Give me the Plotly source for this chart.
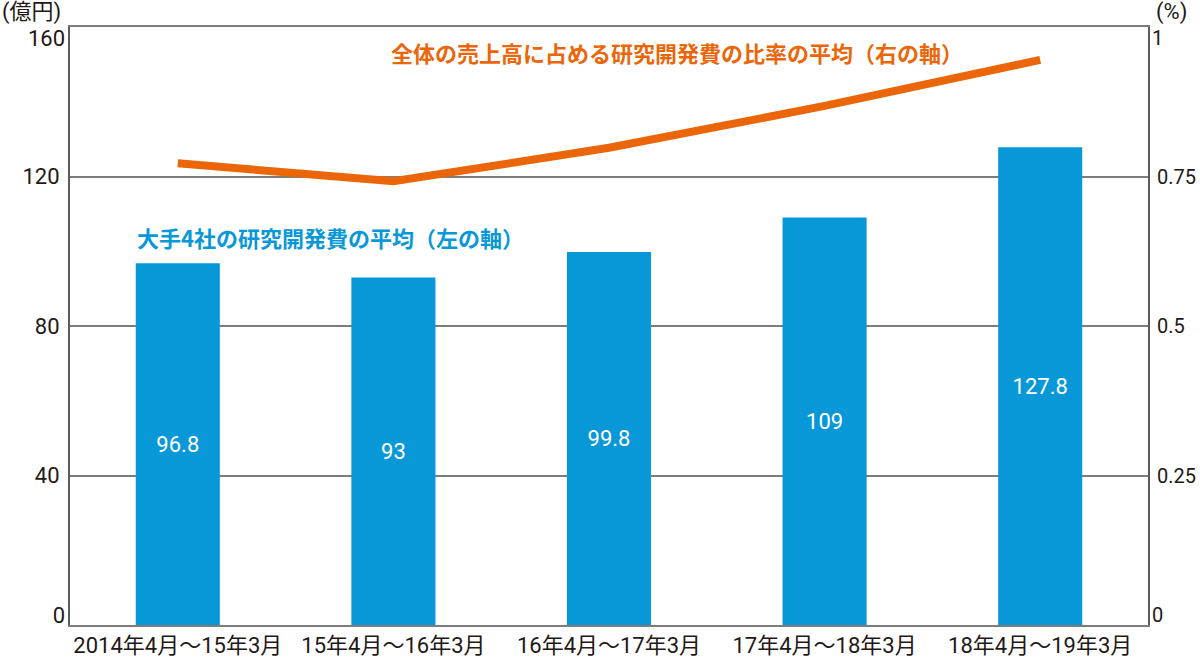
import plotly.graph_objects as go

categories = ["2014年4月～15年3月", "15年4月～16年3月", "16年4月～17年3月", "17年4月～18年3月", "18年4月～19年3月"]
rd_average = [96.8, 93, 99.8, 109, 127.8]          # 億円, left axis
rd_ratio = [0.772, 0.742, 0.798, 0.868, 0.945]     # %, right axis
bar_labels = ["96.8", "93", "99.8", "109", "127.8"]
left_mid_ticks = [40, 80, 120]
left_bottom_tick = [0]
left_top_tick = [160]
right_mid_ticks = [0.25, 0.5, 0.75]
right_mid_ticktext = ["0.25", "0.5", "0.75"]
right_bottom_tick = [0]
right_top_tick = [1]

BLUE = "#0898D8"
ORANGE = "#EB6608"
TEXT = "#231815"
GRID = "#7d7d7d"
AXIS = "#5a5a5a"
NUMFONT = "Roboto, Noto Sans CJK JP, sans-serif"
JPFONT = "Noto Sans CJK JP, sans-serif"
TICKFONT = dict(family=NUMFONT, size=22, color=TEXT)
LTICKFONT = dict(family=NUMFONT, size=22, color=TEXT)
RTICKFONT = dict(family=NUMFONT, size=20, color=TEXT)

fig = go.Figure()
fig.add_trace(go.Bar(
    x=categories, y=rd_average, marker=dict(color=BLUE, line=dict(width=0)),
    width=0.39, text=bar_labels, textposition="inside", insidetextanchor="middle",
    textfont=dict(family=NUMFONT, size=22, color="white"), yaxis="y", showlegend=False,
))
fig.add_trace(go.Scatter(
    x=categories, y=rd_ratio, mode="lines", line=dict(color=ORANGE, width=8),
    yaxis="y2", showlegend=False,
))
# empty helper traces so that the end-label axes are drawn
for ax in ["y3", "y4", "y5", "y6"]:
    fig.add_trace(go.Scatter(x=[], y=[], yaxis=ax, showlegend=False, hoverinfo="skip"))


def label_axis(side, rng, vals, shift, standoff, font):
    return dict(range=rng, tickvals=vals, overlaying="y", side=side, showgrid=False,
                showline=False, zeroline=False, ticks="", tickfont=font,
                ticklabelshift=shift, ticklabelstandoff=standoff, automargin=False)


fig.update_layout(
    width=1200, height=659,
    margin=dict(l=70, r=52, t=27, b=34),
    paper_bgcolor="white", plot_bgcolor="white",
    font=dict(family=NUMFONT, color=TEXT, size=22),
    xaxis=dict(
        showgrid=False, showline=True, linecolor=GRID, linewidth=2, mirror=True,
        ticks="", tickfont=TICKFONT, automargin=False,
    ),
    yaxis=dict(
        range=[0, 160], tickvals=left_mid_ticks, showgrid=True, gridcolor=GRID, gridwidth=2,
        showline=True, linecolor=AXIS, linewidth=2, ticks="", zeroline=False,
        tickfont=LTICKFONT, ticklabelstandoff=4, automargin=False,
    ),
    yaxis2=dict(
        range=[0, 1], tickvals=right_mid_ticks, ticktext=right_mid_ticktext, overlaying="y",
        side="right", showgrid=False, showline=True, linecolor=AXIS, linewidth=2, ticks="",
        zeroline=False, tickfont=RTICKFONT, ticklabelstandoff=3, automargin=False,
    ),
    yaxis3=label_axis("left", [0, 160], left_bottom_tick, -10, 4, LTICKFONT),
    yaxis4=label_axis("left", [0, 160], left_top_tick, 11, 4, LTICKFONT),
    yaxis5=label_axis("right", [0, 1], right_bottom_tick, -10, 3, RTICKFONT),
    yaxis6=label_axis("right", [0, 1], right_top_tick, 11, 3, RTICKFONT),
)

fig.add_annotation(text="(億円)", xref="paper", yref="paper", x=-70 / 1078, y=1 + 15 / 598,
                   xanchor="left", yanchor="middle", showarrow=False,
                   font=dict(family=NUMFONT, size=22, color=TEXT))
fig.add_annotation(text="(%)", xref="paper", yref="paper", x=1 + 6 / 1078, y=1 + 15 / 598,
                   xanchor="left", yanchor="middle", showarrow=False,
                   font=dict(family=NUMFONT, size=22, color=TEXT))
fig.add_annotation(text="<b>全体の売上高に占める研究開発費の比率の平均（右の軸）</b>",
                   xref="paper", yref="paper", x=(677 - 70) / 1078, y=(625 - 52) / 598,
                   xanchor="center", yanchor="middle", showarrow=False,
                   font=dict(family=JPFONT, size=22, color=ORANGE))
fig.add_annotation(text="<b>大手4社の研究開発費の平均（左の軸）</b>",
                   xref="paper", yref="paper", x=(330 - 70) / 1078, y=(625 - 237) / 598,
                   xanchor="center", yanchor="middle", showarrow=False,
                   font=dict(family=JPFONT, size=22, color=BLUE))

fig.write_html("out.html")
